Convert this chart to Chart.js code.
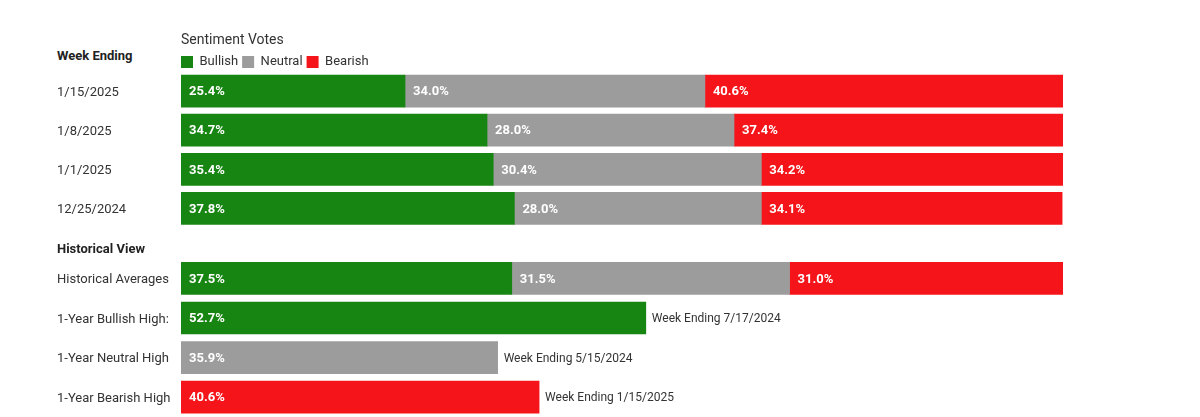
<!DOCTYPE html>
<html><head><meta charset="utf-8">
<script src="https://cdn.jsdelivr.net/npm/chart.js@4.4.1/dist/chart.umd.min.js"></script>
<style>
html,body{margin:0;padding:0;background:#fff;width:1200px;height:417px;overflow:hidden;}
#wrap{position:relative;width:1200px;height:417px;}
canvas{position:absolute;left:0;}
#c1{top:0;}
#c2{top:232px;}
.hdr{position:absolute;left:57px;font:bold 13px Roboto;color:#222;line-height:16px;}
</style></head><body>
<div id="wrap">
<div class="hdr" style="top:48px">Week Ending</div>
<canvas id="c1" width="1200" height="228"></canvas>
<canvas id="c2" width="1200" height="185"></canvas>
</div>
<script>
const weekLabels = ['1/15/2025', '1/8/2025', '1/1/2025', '12/25/2024'];
const weekBullish = [25.4, 34.7, 35.4, 37.8];
const weekNeutral = [34.0, 28.0, 30.4, 28.0];
const weekBearish = [40.6, 37.4, 34.2, 34.1];

const histLabels = ['Historical Averages', '1-Year Bullish High:', '1-Year Neutral High', '1-Year Bearish High'];
const histBullish = [37.5, 52.7, null, null];
const histNeutral = [31.5, null, 35.9, null];
const histBearish = [31.0, null, null, 40.6];
const histNotes = ['', 'Week Ending 7/17/2024', 'Week Ending 5/15/2024', 'Week Ending 1/15/2025'];

const seriesNames = ['Bullish', 'Neutral', 'Bearish'];
const GREEN = '#178512', GRAY = '#9c9c9c', RED = '#f41419';

const valueLabels = {
  id: 'valueLabels',
  afterLayout(chart) {
    const lg = chart.legend;
    if (lg && lg.options && lg.options.display) { lg.left -= 4; lg.right -= 4; }
  },
  afterDatasetsDraw(chart, args, opts) {
    const ctx = chart.ctx;
    ctx.save();
    ctx.textBaseline = 'middle';
    ctx.textAlign = 'left';
    ctx.font = 'bold 13px Roboto';
    ctx.fillStyle = '#fff';
    chart.data.datasets.forEach((ds, di) => {
      chart.getDatasetMeta(di).data.forEach((bar, i) => {
        const v = ds.data[i];
        if (v == null) return;
        const left = Math.min(bar.x, bar.base);
        ctx.fillText(v.toFixed(1) + '%', left + 8, bar.y + 1);
      });
    });
    const notes = opts && opts.notes;
    if (notes) {
      ctx.font = '12px Roboto';
      ctx.fillStyle = '#333';
      notes.forEach((n, i) => {
        if (!n) return;
        let right = -Infinity, y = 0;
        chart.data.datasets.forEach((ds, di) => {
          const bar = chart.getDatasetMeta(di).data[i];
          if (ds.data[i] != null) { right = Math.max(right, bar.x); y = bar.y; }
        });
        ctx.fillText(n, right + 6, y + 1);
      });
    }
    ctx.restore();
  }
};

function makeChart(id, labels, b, n, r, plugins) {
  return new Chart(document.getElementById(id), {
    type: 'bar',
    data: {
      labels: labels,
      datasets: [
        { label: seriesNames[0], data: b, backgroundColor: GREEN },
        { label: seriesNames[1], data: n, backgroundColor: GRAY },
        { label: seriesNames[2], data: r, backgroundColor: RED }
      ]
    },
    options: {
      indexAxis: 'y',
      responsive: false,
      animation: false,
      devicePixelRatio: 1,
      events: [],
      layout: { padding: { left: 57, right: 137, top: 0, bottom: 0 } },
      datasets: { bar: { barThickness: 32, borderWidth: 0 } },
      scales: {
        x: { stacked: true, min: 0, max: 100, display: false },
        y: {
          stacked: true,
          grid: { display: false },
          border: { display: false },
          ticks: { crossAlign: 'far', color: '#333', padding: 0, labelOffset: 1.5, font: { family: 'Roboto', size: 13 } },
          afterFit(s) { s.width = 124; s.paddingTop = 0; s.paddingBottom = 0; }
        }
      },
      plugins: plugins
    },
    plugins: [valueLabels]
  });
}

const weekChart = makeChart('c1', weekLabels, weekBullish, weekNeutral, weekBearish, {
  tooltip: { enabled: false },
  title: { display: true, text: 'Sentiment Votes', align: 'start', fullSize: false, color: '#333', padding: { top: 32.5, bottom: 2.2 }, font: { family: 'Roboto', size: 14, weight: 'normal' } },
  legend: {
    display: true,
    position: 'top',
    align: 'start',
    fullSize: false,
    labels: { boxWidth: 12, boxHeight: 12, padding: 4, color: '#333', font: { family: 'Roboto', size: 13 } }
  },
  valueLabels: {}
});
const weekLegend = weekChart.legend;
const origFit = weekLegend.fit.bind(weekLegend);
weekLegend.fit = function () { origFit(); this.height -= 7; };
weekChart.update();

const histChart = makeChart('c2', histLabels, histBullish, histNeutral, histBearish, {
  tooltip: { enabled: false },
  legend: { display: false },
  title: { display: true, text: 'Historical View', align: 'start', color: '#222', padding: { top: 9.5, bottom: 1.5 }, font: { family: 'Roboto', size: 13, weight: 'bold' } },
  valueLabels: { notes: histNotes }
});
</script>
</body></html>
